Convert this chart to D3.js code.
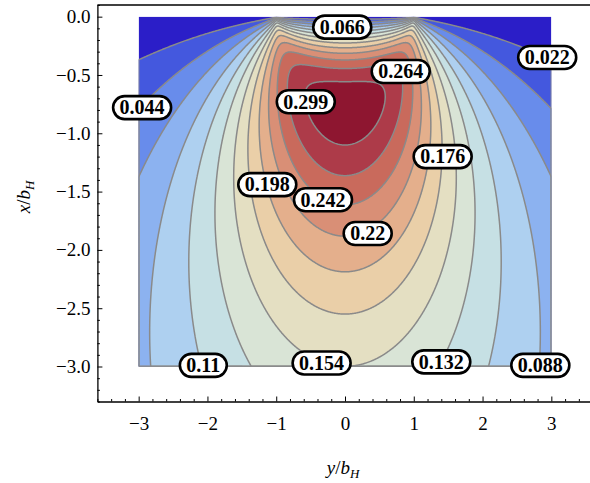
<!DOCTYPE html>
<html>
<head>
<meta charset="utf-8">
<script src="https://cdn.jsdelivr.net/npm/d3@7"></script>
<style>
  body { margin: 0; background: #fff; }
  svg { display: block; }
  text { font-family: "Liberation Serif", "DejaVu Serif", serif; }
</style>
</head>
<body>
<svg id="chart" width="590" height="483"></svg>
<script>
// Principal shear stress tau_max / p0 below a Hertzian line contact (half-width b_H = 1).
// Contour levels drawn as lines; bands between them are filled.
const levels = [0.022, 0.044, 0.066, 0.088, 0.11, 0.132, 0.154, 0.176, 0.198, 0.22, 0.242, 0.264, 0.286];

// Fill colour for each band: below the first level, between levels, above the last level.
const bandColors = [
  "#2b1ec8", "#4458de", "#688ceb", "#8cb2f0", "#aed0f0", "#c6e0e4", "#d9e4d6",
  "#e4dfc2", "#eacfa8", "#e4af8c", "#d98f76", "#c96a5c", "#ad3b49", "#8e1630"
];

// Extent of the computed field (lateral y/b_H and depth x/b_H).
const fieldX = [-3, 3];
const fieldDepth = [0, 3];

// Axis ticks.
const xTicks = [-3, -2, -1, 0, 1, 2, 3];
const yTicks = [0, -0.5, -1, -1.5, -2, -2.5, -3];

// Contour labels: text and the point of the contour it sits on.
const labelTexts = ["0.066", "0.022", "0.044", "0.264", "0.299", "0.176", "0.198", "0.242", "0.22", "0.11", "0.154", "0.132", "0.088"];
const labelAtX = [-0.04, 2.94, -2.95, 0.81, -0.57, 1.42, -1.13, -0.32, 0.33, -2.06, -0.34, 1.40, 2.84];
const labelAtY = [-0.09, -0.35, -0.78, -0.47, -0.73, -1.20, -1.44, -1.57, -1.86, -2.99, -2.97, -2.96, -2.99];

// McEwen's closed-form subsurface stresses for a frictionless Hertz line contact.
function tauMax(x, z) {
  const A = 1 - x * x + z * z;
  const R = Math.sqrt(A * A + 4 * x * x * z * z);
  const m = Math.sqrt(Math.max(0, (R + A) / 2));
  const n = Math.sqrt(Math.max(0, (R - A) / 2));
  const mn = m * m + n * n;
  if (mn === 0) return 0;
  const sx = -(m * (1 + (z * z + n * n) / mn) - 2 * z);
  const sz = -m * (1 - (z * z + n * n) / mn);
  const txz = n * (m * m - z * z) / mn;
  return Math.sqrt(((sx - sz) / 2) ** 2 + txz * txz);
}

const svg = d3.select("#chart");

const x = d3.scaleLinear().domain([-3.6, 3.6]).range([97.4, 592.6]);
const y = d3.scaleLinear().domain([-3.3, 0.1]).range([401.5, 5]);

// Sample the field on a grid, padded by one cell of low values on every side
// so that band boundaries never run along the edges of the field.
const step = 0.01;
const nx = Math.round((fieldX[1] - fieldX[0]) / step) + 1;
const nz = Math.round((fieldDepth[1] - fieldDepth[0]) / step) + 1;
const W = nx + 2, H = nz + 2;
const grid = new Float64Array(W * H).fill(-1);
for (let j = 0; j < nz; j++) {
  const z = fieldDepth[0] + j * step;
  for (let i = 0; i < nx; i++) {
    const xv = fieldX[0] + i * step;
    grid[(j + 1) * W + (i + 1)] = tauMax(xv, z);
  }
}

// Grid coordinates from d3.contours -> data -> pixels (sample k sits at k + 0.5).
const toPixels = d3.geoTransform({
  point(gx, gy) {
    const xv = fieldX[0] + (gx - 1.5) * step;
    const z = fieldDepth[0] + (gy - 1.5) * step;
    this.stream.point(x(xv), y(-z));
  }
});
const path = d3.geoPath(toPixels);

const contours = d3.contours().size([W, H]).thresholds(levels)(grid);

svg.append("defs").append("clipPath").attr("id", "field-clip")
  .append("rect")
  .attr("x", x(fieldX[0])).attr("y", y(-fieldDepth[0]))
  .attr("width", x(fieldX[1]) - x(fieldX[0]))
  .attr("height", y(-fieldDepth[1]) - y(-fieldDepth[0]));

const field = svg.append("g").attr("clip-path", "url(#field-clip)");

field.append("rect")
  .attr("x", x(fieldX[0])).attr("y", y(-fieldDepth[0]))
  .attr("width", x(fieldX[1]) - x(fieldX[0]))
  .attr("height", y(-fieldDepth[1]) - y(-fieldDepth[0]))
  .attr("fill", bandColors[0]);

field.selectAll("path.band")
  .data(contours)
  .join("path")
  .attr("class", "band")
  .attr("d", path)
  .attr("fill", (d, i) => bandColors[i + 1])
  .attr("stroke", (d, i) => bandColors[i + 1])
  .attr("stroke-width", 0.4);

field.selectAll("path.iso")
  .data(contours)
  .join("path")
  .attr("class", "iso")
  .attr("d", path)
  .attr("fill", "none")
  .attr("stroke", "#8a8a8a")
  .attr("stroke-width", 1.5)
  .attr("stroke-linejoin", "round");

// Frame and axes (ticks point inward).
const frame = svg.append("g").attr("fill", "none").attr("stroke", "#000").attr("stroke-width", 1.3);
frame.append("line").attr("x1", x(-3.6)).attr("x2", x(3.6)).attr("y1", y(0.1)).attr("y2", y(0.1));
frame.append("line").attr("x1", x(3.6)).attr("x2", x(3.6)).attr("y1", y(0.1)).attr("y2", y(-3.3));

const xMinor = d3.range(-18, 19).map(k => k / 5).filter(v => !xTicks.some(t => Math.abs(t - v) < 1e-9));
const yMinor = d3.range(-33, 2).map(k => k / 10).filter(v => !yTicks.some(t => Math.abs(t - v) < 1e-9));

const bottom = svg.append("g").attr("transform", `translate(0,${y(-3.3)})`);
bottom.call(d3.axisBottom(x).tickValues(xTicks).tickFormat(d3.format("d"))
  .tickSizeInner(-5).tickSizeOuter(0).tickPadding(15));
bottom.append("g").call(d3.axisBottom(x).tickValues(xMinor).tickFormat("")
  .tickSizeInner(-2.5).tickSizeOuter(0)).select(".domain").remove();

const left = svg.append("g").attr("transform", `translate(${x(-3.6)},0)`);
left.call(d3.axisLeft(y).tickValues(yTicks).tickFormat(d3.format(".1f"))
  .tickSizeInner(-5).tickSizeOuter(0).tickPadding(7));
left.append("g").call(d3.axisLeft(y).tickValues(yMinor).tickFormat("")
  .tickSizeInner(-2.5).tickSizeOuter(0)).select(".domain").remove();

svg.selectAll(".domain").attr("stroke-width", 1.3);
svg.selectAll(".tick line").attr("stroke-width", 1);
svg.selectAll(".tick text")
  .attr("font-family", "'Liberation Serif', serif")
  .attr("font-size", 19)
  .attr("fill", "#000");

// Axis titles.
const xTitle = svg.append("text")
  .attr("x", 343).attr("y", 474)
  .attr("text-anchor", "middle")
  .attr("font-size", 19);
xTitle.append("tspan").attr("font-style", "italic").text("y");
xTitle.append("tspan").text("/");
xTitle.append("tspan").attr("font-style", "italic").text("b");
xTitle.append("tspan").attr("font-style", "italic").attr("font-size", 13).attr("dy", 4).text("H");

const yTitle = svg.append("text")
  .attr("transform", "translate(30,197) rotate(-90)")
  .attr("text-anchor", "middle")
  .attr("font-size", 19);
yTitle.append("tspan").attr("font-style", "italic").text("x");
yTitle.append("tspan").text("/");
yTitle.append("tspan").attr("font-style", "italic").text("b");
yTitle.append("tspan").attr("font-style", "italic").attr("font-size", 13).attr("dy", 4).text("H");

// Framed contour labels.
const labels = svg.append("g").selectAll("g")
  .data(labelTexts.map((t, i) => ({ t, lx: labelAtX[i], ly: labelAtY[i] })))
  .join("g")
  .attr("transform", d => `translate(${x(d.lx)},${y(d.ly)})`);

labels.append("rect").attr("class", "pill");
labels.append("text")
  .attr("text-anchor", "middle")
  .attr("dy", "0.34em")
  .attr("font-size", 20)
  .attr("font-weight", "bold")
  .attr("fill", "#000")
  .text(d => d.t);

labels.each(function () {
  const g = d3.select(this);
  const w = g.select("text").node().getComputedTextLength() + 13;
  const h = 23;
  g.select("rect")
    .attr("x", -w / 2).attr("y", -h / 2)
    .attr("width", w).attr("height", h)
    .attr("rx", h / 2).attr("ry", h / 2)
    .attr("fill", "#fff")
    .attr("stroke", "#000")
    .attr("stroke-width", 2.6);
});
</script>
</body>
</html>
